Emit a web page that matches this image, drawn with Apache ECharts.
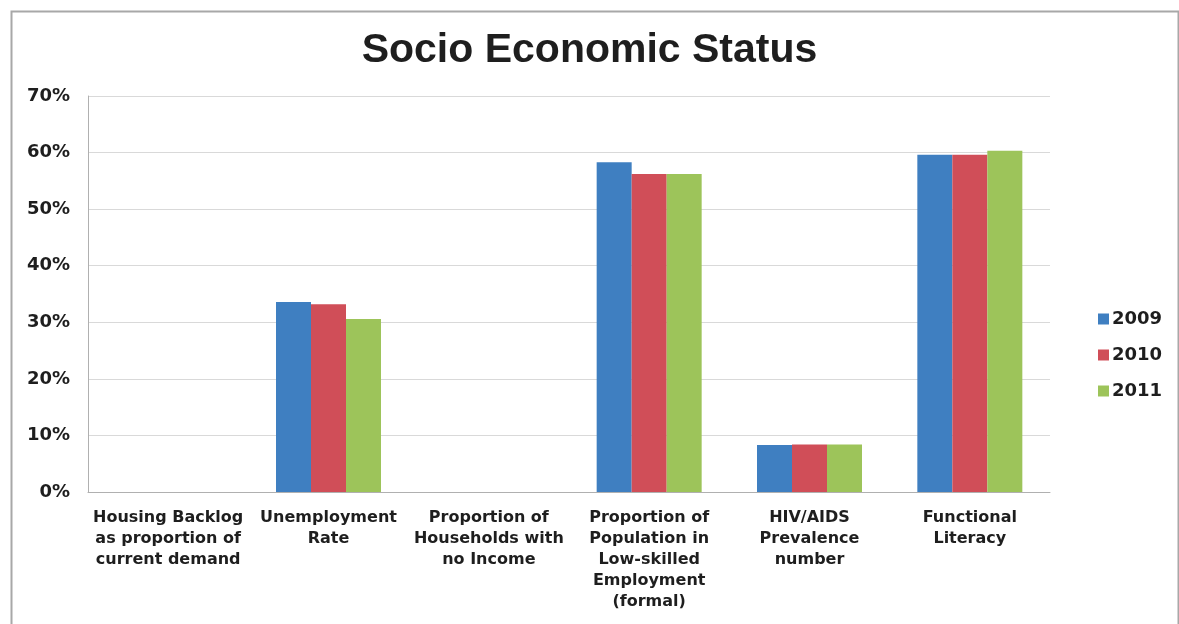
<!DOCTYPE html>
<html>
<head>
<meta charset="utf-8">
<script src="https://cdn.jsdelivr.net/npm/echarts@6/dist/echarts.min.js"></script>
<style>
html,body{margin:0;padding:0;background:#fff;}
#chart{width:1179px;height:624px;}
</style>
</head>
<body>
<div id="chart"></div>
<script>
const categories = [
  "Housing Backlog\nas proportion of\ncurrent demand",
  "Unemployment\nRate",
  "Proportion of\nHouseholds with\nno Income",
  "Proportion of\nPopulation in\nLow-skilled\nEmployment\n(formal)",
  "HIV/AIDS\nPrevalence\nnumber",
  "Functional\nLiteracy"
];
const seriesNames = ["2009", "2010", "2011"];
const values2009 = [null, 33.6, null, 58.3, 8.3, 59.6];
const values2010 = [null, 33.2, null, 56.2, 8.4, 59.6];
const values2011 = [null, 30.6, null, 56.2, 8.4, 60.3];
const titleText = "Socio Economic Status";

const colors = ['#3F7FC1', '#D04E58', '#9DC45A'];
const allValues = [values2009, values2010, values2011];

const chart = echarts.init(document.getElementById('chart'));
chart.setOption({
  animation: false,
  backgroundColor: '#fff',
  title: {
    text: titleText,
    left: 'center',
    top: 25,
    textStyle: { fontFamily: 'Liberation Sans', fontWeight: 'bold', fontSize: 41, color: '#1e1e1e' }
  },
  graphic: [{
    type: 'rect', left: 9, top: 9, silent: true,
    shape: { width: 1167, height: 640 },
    style: { fill: 'none', stroke: '#a8a8a8', lineWidth: 2 }
  }],
  legend: {
    orient: 'vertical',
    left: 1093,
    top: 305,
    itemWidth: 11,
    itemHeight: 11,
    itemGap: 18,
    icon: 'rect',
    textStyle: { fontFamily: 'DejaVu Sans', fontWeight: 'bold', fontSize: 18, lineHeight: 18, color: '#1e1e1e', padding: [0, 0, 0, -2] },
    data: seriesNames
  },
  grid: { left: 88, right: 129, top: 96, bottom: 132 },
  xAxis: {
    type: 'category',
    data: categories,
    axisLine: { lineStyle: { color: '#b0b0b0' } },
    axisTick: { show: false },
    axisLabel: {
      interval: 0,
      margin: 15,
      fontFamily: 'DejaVu Sans', fontWeight: 'bold', fontSize: 16, lineHeight: 21, color: '#1e1e1e',
      align: 'center', verticalAlign: 'top'
    }
  },
  yAxis: {
    type: 'value',
    min: 0, max: 70, interval: 10,
    axisLine: { show: true, lineStyle: { color: '#b0b0b0' } },
    axisTick: { show: false },
    splitLine: { lineStyle: { color: '#d9d9d9' } },
    axisLabel: {
      formatter: '{value}%',
      margin: 18,
      fontFamily: 'DejaVu Sans', fontWeight: 'bold', fontSize: 18, color: '#1e1e1e'
    }
  },
  series: seriesNames.map((name, i) => ({
    name: name,
    type: 'bar',
    data: allValues[i],
    barWidth: 35,
    barGap: '0%',
    itemStyle: { color: colors[i] }
  }))
});
</script>
</body>
</html>
